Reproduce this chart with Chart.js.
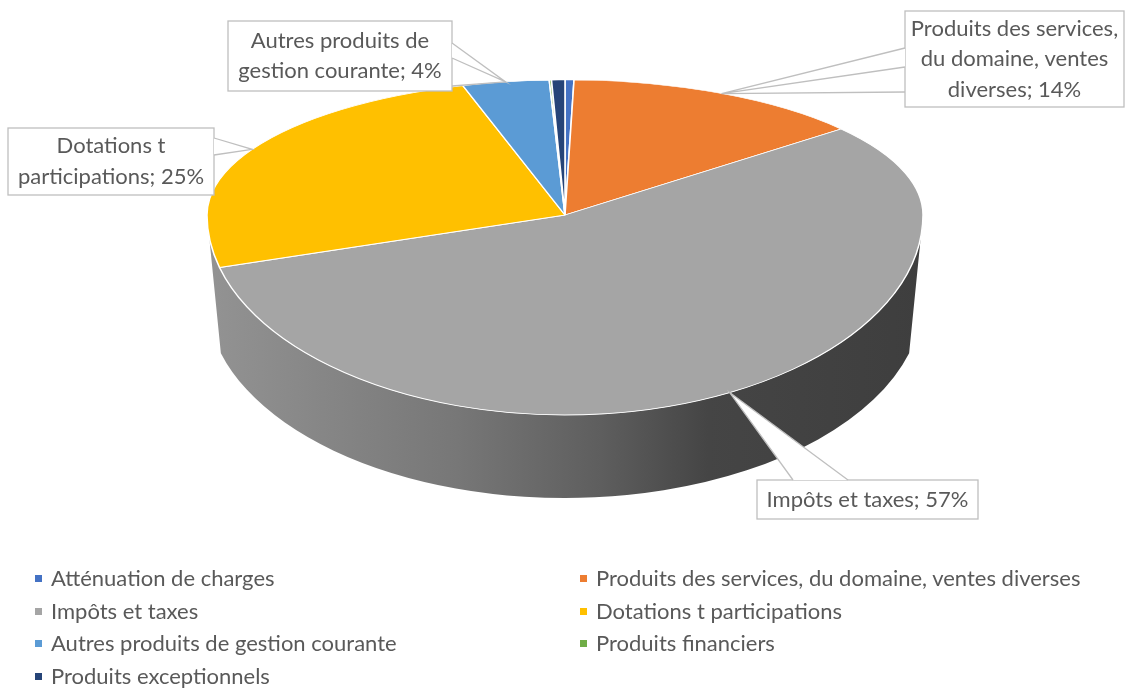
<!DOCTYPE html>
<html>
<head>
<meta charset="utf-8">
<script src="https://cdn.jsdelivr.net/npm/chart.js@4.4.0/dist/chart.umd.min.js"></script>
<style>
html,body{margin:0;padding:0;background:#fff;}
#wrap{position:relative;width:1126px;height:689px;overflow:hidden;font-family:Lato,'Open Sans',sans-serif;}
#c{position:absolute;left:0;top:0;}
#legend{position:absolute;left:0;top:0;width:1126px;height:689px;pointer-events:none;}
.li{position:absolute;font-size:22px;color:#595959;white-space:nowrap;line-height:26px;height:26px;}
.li .m{position:absolute;width:7px;height:7px;left:-16px;top:10px;}
</style>
</head>
<body>
<div id="wrap"><canvas id="c" width="1126" height="689"></canvas><div id="legend"></div></div>
<script>
// ---- data ----
const categories = [
  'Atténuation de charges',
  'Produits des services, du domaine, ventes diverses',
  'Impôts et taxes',
  'Dotations t participations',
  'Autres produits de gestion courante',
  'Produits financiers',
  'Produits exceptionnels'
];
const values = [0.4, 13.6, 56.7, 24.6, 3.9, 0.1, 0.6];
const colors = ['#4472C4', '#ED7D31', '#A5A5A5', '#FFC000', '#5B9BD5', '#70AD47', '#264478'];
const labelledIndexes = [1, 2, 3, 4];

// ---- layout (projection of the pie, callout boxes, legend) ----
const CX = 565, CY = 215, RX = 358, RY_TOP = 135, RY_BOT = 200, DEPTH = 83;
const SIDE_MARGIN = 16 * Math.PI / 180; // perspective: visible side arc is narrower than a half turn
const FONT = '22px Lato, "Open Sans", sans-serif';
const TEXT_COLOR = '#595959';
const LABEL_LAYOUT = {
  1: {box: [905, 11, 219, 96], wedge: [[905, 48], [905, 67]], leader: [905, 92]},
  2: {box: [757, 480, 221, 39], wedge: [[793, 480], [848, 480]]},
  3: {box: [8, 128, 206, 67], wedge: [[214, 138], [214, 155]]},
  4: {box: [228, 21, 224, 70], wedge: [[452, 43], [452, 58]], leader: [452, 86]}
};

function darken(hex, f) {
  const n = parseInt(hex.slice(1), 16);
  const r = Math.round(((n >> 16) & 255) * f), g = Math.round(((n >> 8) & 255) * f), b = Math.round((n & 255) * f);
  return 'rgb(' + r + ',' + g + ',' + b + ')';
}

function applyProjection(ctx, el, ry) {
  const R = el.outerRadius;
  ctx.translate(CX, CY);
  ctx.scale(RX / R, ry / R);
  ctx.translate(-el.x, -el.y);
}

function projectPoint(angle) {
  const s = Math.sin(angle);
  return {x: CX + RX * Math.cos(angle), y: CY + (s >= 0 ? RY_BOT : RY_TOP) * s};
}

const pie3d = {
  id: 'pie3d',
  beforeDatasetsDraw(chart) {
    const ctx = chart.ctx;
    const meta = chart.getDatasetMeta(0);
    const lo = SIDE_MARGIN, hi = Math.PI - SIDE_MARGIN;
    // side walls (visible front arc only)
    meta.data.forEach((el, i) => {
      const a = Math.max(el.startAngle, lo), b = Math.min(el.endAngle, hi);
      if (b <= a) return;
      const ta = a === lo ? 0 : a, tb = b === hi ? Math.PI : b;
      ctx.save();
      ctx.beginPath();
      ctx.ellipse(CX, CY, RX, RY_BOT, 0, ta, tb);
      ctx.ellipse(CX, CY + DEPTH, RX, RY_BOT, 0, b, a, true);
      ctx.closePath();
      if (colors[i] === '#A5A5A5') {
        const g = ctx.createLinearGradient(CX - RX, 0, CX + RX, 0);
        g.addColorStop(0, '#939393');
        g.addColorStop(0.35, '#777777');
        g.addColorStop(0.55, '#5e5e5e');
        g.addColorStop(0.7, '#454545');
        g.addColorStop(1, '#3e3e3e');
        ctx.fillStyle = g;
      } else {
        ctx.fillStyle = darken(colors[i], 0.72);
      }
      ctx.fill();
      ctx.restore();
    });
    // top face: upper half
    const el0 = meta.data[0];
    ctx.save();
    ctx.beginPath();
    ctx.rect(0, 0, chart.width, CY);
    ctx.clip();
    applyProjection(ctx, el0, RY_TOP);
  },
  afterDatasetsDraw(chart) {
    const ctx = chart.ctx;
    ctx.restore();
    const meta = chart.getDatasetMeta(0);
    const el0 = meta.data[0];
    // top face: lower half
    ctx.save();
    ctx.beginPath();
    ctx.rect(0, CY, chart.width, chart.height - CY);
    ctx.clip();
    applyProjection(ctx, el0, RY_BOT);
    meta.controller.draw();
    ctx.restore();
  },
  afterDraw(chart) {
    const ctx = chart.ctx;
    const meta = chart.getDatasetMeta(0);
    const total = values.reduce((s, v) => s + v, 0);
    ctx.save();
    ctx.font = FONT;
    labelledIndexes.forEach(i => {
      const L = LABEL_LAYOUT[i];
      const el = meta.data[i];
      const anchor = projectPoint((el.startAngle + el.endAngle) / 2);
      const [bx, by, bw, bh] = L.box;
      ctx.lineWidth = 1.3;
      ctx.strokeStyle = '#bfbfbf';
      // box
      ctx.fillStyle = '#fff';
      ctx.fillRect(bx, by, bw, bh);
      ctx.strokeRect(bx, by, bw, bh);
      // wedge
      ctx.beginPath();
      ctx.moveTo(L.wedge[0][0], L.wedge[0][1]);
      ctx.lineTo(anchor.x, anchor.y);
      ctx.lineTo(L.wedge[1][0], L.wedge[1][1]);
      ctx.closePath();
      ctx.fill();
      ctx.beginPath();
      ctx.moveTo(L.wedge[0][0], L.wedge[0][1]);
      ctx.lineTo(anchor.x, anchor.y);
      ctx.lineTo(L.wedge[1][0], L.wedge[1][1]);
      ctx.stroke();
      if (L.leader) {
        ctx.beginPath();
        ctx.moveTo(L.leader[0], L.leader[1]);
        ctx.lineTo(anchor.x, anchor.y);
        ctx.stroke();
      }
      // text
      const text = categories[i] + '; ' + Math.round(values[i] / total * 100) + '%';
      const words = text.split(' ');
      const maxW = bw - 4;
      const lines = [];
      let cur = '';
      words.forEach(w => {
        const t = cur ? cur + ' ' + w : w;
        if (cur && ctx.measureText(t).width > maxW) { lines.push(cur); cur = w; } else { cur = t; }
      });
      if (cur) lines.push(cur);
      const lh = 30.5;
      const cy = by + bh / 2;
      ctx.fillStyle = TEXT_COLOR;
      ctx.textAlign = 'center';
      ctx.textBaseline = 'middle';
      lines.forEach((ln, k) => {
        ctx.fillText(ln, bx + bw / 2, cy + (k - (lines.length - 1) / 2) * lh);
      });
    });
    ctx.restore();
  }
};

new Chart(document.getElementById('c'), {
  type: 'pie',
  data: {
    labels: categories,
    datasets: [{data: values, backgroundColor: colors, borderColor: '#ffffff', borderWidth: 1.5}]
  },
  options: {
    responsive: false,
    animation: false,
    events: [],
    layout: {padding: 0},
    plugins: {legend: {display: false}, tooltip: {enabled: false}}
  },
  plugins: [pie3d]
});

// ---- legend (two columns, row-major like the original) ----
const legend = document.getElementById('legend');
categories.forEach((name, i) => {
  const col = i % 2, row = Math.floor(i / 2);
  const d = document.createElement('div');
  d.className = 'li';
  d.style.left = (col === 0 ? 51 : 596) + 'px';
  d.style.top = (565 + row * 32.7) + 'px';
  const m = document.createElement('span');
  m.className = 'm';
  m.style.background = colors[i];
  d.appendChild(m);
  d.appendChild(document.createTextNode(name));
  legend.appendChild(d);
});
</script>
</body>
</html>
